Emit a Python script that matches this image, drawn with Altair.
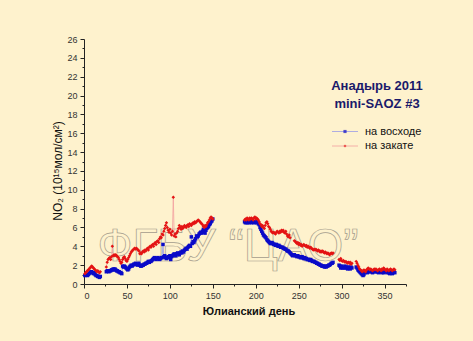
import altair as alt
import pandas as pd

# ---------------- data ----------------
series_names = ["на восходе", "на закате"]
marker_colors = ["#0a0ac8", "#e41414"]
line_colors = ["#9a9ae6", "#f2a0a0"]
marker_shapes = ["square", "diamond"]

sunrise_starts = [1, 26, 187, 297, 317]
sunrise_vals = [
    [0.9, 1.0, 1.0, 0.9, 1.0, 1.1, 1.2, 1.3, 1.3, 1.2, 1.1, 1.2, 1.0, 0.9, 0.9, 0.8, 0.8, 0.7, 0.8],
    [1.3, 1.4, 1.4, 1.3, 1.4, 1.4, 1.5, 1.5, 1.6, 1.5, 1.6, 1.5, 1.4, 1.4, 1.3, 1.3, 1.2, 1.2, 1.1, 1.9,
     1.8, 1.9, 1.8, 1.7, 1.6, 1.5, 1.6, 1.8, 1.9, 2.0,
     1.9, 2.0, 2.1, 2.1, 2.2, 2.1, 2.0, 2.1, 2.2, 2.0,
     1.9, 1.9, 2.0, 2.0, 2.1, 2.1, 2.2, 2.2, 2.3, 2.4,
     2.3, 2.4, 2.4, 2.5, 2.6, 2.7, 2.8, 2.7, 2.6, 2.7,
     2.8, 2.7, 2.6, 2.7, 2.8, 2.8, 4.2, 2.9, 3.0, 2.8,
     2.7, 2.8, 2.9, 2.8, 3.0, 2.6, 2.9, 3.0, 3.1, 3.2,
     3.1, 3.0, 3.2, 3.3, 3.2, 3.1, 3.3, 3.4, 3.3, 3.5,
     3.4, 3.6, 3.7, 3.8, 3.7, 3.9, 4.0, 4.1, 4.0, 5.0,
     4.3, 4.5, 4.4, 4.6, 4.8, 5.1, 5.0, 5.1, 5.3, 5.4,
     5.5, 5.4, 5.6, 5.8, 5.5, 5.4, 5.7, 5.9, 6.0, 6.1,
     6.3, 6.4, 6.6, 6.7, 6.9],
    [6.6, 6.5, 6.6, 6.5, 6.6, 6.5, 6.6, 6.6, 6.5, 6.6, 6.6, 6.5, 6.6, 6.6, 6.5, 6.6, 6.4,
     6.3, 6.0, 5.8, 5.6, 5.4, 5.2, 5.1, 5.0, 4.9, 4.7, 4.6, 4.5,
     4.4, 4.3, 4.3, 4.4, 4.3, 4.2, 4.2, 4.1, 4.2, 4.1, 4.0, 4.1, 4.0, 3.9, 3.9,
     3.9, 3.8, 3.8, 3.7, 3.7, 3.6, 3.5, 3.5, 3.4, 3.3, 3.2, 3.1, 3.0, 3.1, 3.1,
     3.0, 3.0, 2.9, 3.0, 2.9, 2.9, 2.8, 2.8, 2.9, 2.8, 2.7, 2.8, 2.7, 2.7, 2.6,
     2.6, 2.6, 2.5, 2.6, 2.5, 2.4, 2.4, 2.4, 2.3, 2.3, 2.2, 2.2, 2.1, 2.1, 2.0,
     2.0, 1.9, 1.9, 1.9, 1.8, 1.9, 1.8, 1.9, 1.9, 2.0, 2.0, 2.1, 2.2, 2.2, 2.3],
    [2.0, 1.9, 1.7, 1.9, 1.7, 1.8, 1.7, 1.9, 1.7, 1.8, 1.6, 1.8, 1.7, 1.6, 1.8, 1.7],
    [1.8, 1.7, 1.5, 1.4, 1.3, 1.2, 1.1, 1.0, 0.9, 1.0,
     1.2, 1.3, 1.3, 1.2, 1.3, 1.4, 1.3, 1.4, 1.3, 1.2,
     1.3, 1.4, 1.3, 1.4, 1.3, 1.3, 1.2, 1.3, 1.4, 1.3,
     1.2, 1.3, 1.2, 1.3, 1.3, 1.4, 1.2, 1.3, 1.2, 1.1,
     1.2, 1.3, 1.1, 1.2, 1.3, 1.2],
]

sunset_starts = [1, 26, 187, 245, 297, 317]
sunset_vals = [
    [1.1, 1.2, 1.3, 1.4, 1.5, 1.6, 1.7, 1.8, 1.9, 1.8, 1.7, 1.6, 1.5, 1.4, 1.3, 1.4, 1.3, 1.2, 1.3],
    [1.8, 2.3, 2.6, 2.7, 2.8, 2.6, 2.9, 4.0, 3.0, 3.1,
     3.0, 3.1, 3.0, 2.9, 2.8, 2.6, 2.4, 2.2, 2.3, 2.6,
     2.8, 2.9, 2.7, 2.5, 2.4, 2.6, 2.8, 3.0, 3.2, 3.4,
     3.5, 3.6, 3.7, 3.8, 3.7, 3.8, 3.7, 3.6, 3.5, 3.2,
     3.3, 3.2, 3.4, 3.5, 3.4, 3.6, 3.5, 3.7, 3.8, 3.6,
     3.9, 4.0, 3.9, 4.1, 4.2, 4.0, 4.3, 4.4, 4.2, 4.5,
     4.6, 4.4, 4.8, 5.0, 4.9, 5.3, 5.2, 5.6, 5.9, 6.2,
     6.5, 6.0, 5.7, 5.5, 5.8, 5.4, 5.2, 5.6, 9.2, 5.1,
     5.3, 5.0, 5.4, 5.6, 5.9, 6.2, 6.0, 5.8, 6.1, 5.9,
     6.0, 6.2, 6.1, 6.0, 6.2, 6.3, 6.1, 6.4, 6.3, 6.2,
     6.4, 6.5, 6.4, 6.6, 6.5, 6.6, 6.7, 6.8, 6.7, 6.6,
     6.5, 6.4, 6.3, 6.1, 6.0, 6.2, 6.1, 6.3, 6.5, 6.6,
     6.8, 7.0, 7.1, 7.0, 6.9],
    [6.8, 6.9, 6.8, 7.0, 6.9, 6.8, 7.0, 6.9, 7.0, 6.9,
     6.8, 7.0, 7.1, 6.9, 7.0, 6.9, 6.8, 6.6, 6.4, 6.3,
     6.1, 6.2, 6.0, 5.9, 6.2, 6.5, 6.6, 6.4, 6.1, 6.0,
     5.8, 5.6, 5.5, 5.4, 5.5, 5.4, 5.3, 5.5, 5.6, 5.5,
     5.4, 5.6, 5.5, 5.7, 5.6, 5.7, 5.5, 5.4, 5.6, 5.3,
     5.1, 5.0, 5.2, 4.9],
    [4.6, 4.5, 4.4, 4.3, 4.4, 4.2, 4.3, 4.1, 4.2, 4.0,
     4.1, 4.2, 4.1, 4.0, 4.1, 3.9, 4.0, 3.9, 3.8, 3.9,
     3.8, 3.7, 3.6, 3.7, 3.6, 3.7, 3.6, 3.5, 3.6, 3.5,
     3.4, 3.5, 3.4, 3.5, 3.4, 3.3, 3.4, 3.3, 3.2, 3.3,
     3.2, 3.1, 3.2, 3.3, 3.2, 3.3],
    [2.6, 2.5, 2.7, 2.5, 2.4, 2.5, 2.4, 2.3, 2.4, 2.3, 2.2, 2.3, 2.2, 2.3, 2.1, 2.2],
    [2.4, 2.2, 2.0, 1.8, 1.6, 1.5, 1.4, 1.3, 1.4, 1.5,
     1.4, 1.3, 1.5, 1.6, 1.7, 1.6, 1.5, 1.6, 1.5, 1.4,
     1.5, 1.6, 1.5, 1.6, 1.5, 1.4, 1.5, 1.6, 1.5, 1.4,
     1.6, 1.5, 1.7, 1.6, 1.5, 1.4, 1.6, 1.5, 1.4, 1.5,
     1.6, 1.5, 1.4, 1.5, 1.6, 1.5],
]

x_ticks = [0, 50, 100, 150, 200, 250, 300, 350]
x_minor = [25, 75, 125, 175, 225, 275, 325, 375]
y_ticks = [0, 2, 4, 6, 8, 10, 12, 14, 16, 18, 20, 22, 24, 26]
y_minor = [1, 3, 5, 7, 9, 11, 13, 15, 17, 19, 21, 23, 25]

title_lines = ["Анадырь 2011", "mini-SAOZ #3"]
x_title = "Юлианский день"
y_title = "NO₂ (10¹⁵мол/см²)"
watermark = "ФГБУ “ЦАО”"

# ---------------- build table ----------------
rows = []
for name, starts, vals in [(series_names[0], sunrise_starts, sunrise_vals),
                           (series_names[1], sunset_starts, sunset_vals)]:
    for k, (s, seg) in enumerate(zip(starts, vals)):
        for i, v in enumerate(seg):
            rows.append({"series": name, "seg": f"{name}-{k}", "day": s + i, "val": v})
df = pd.DataFrame(rows)

xscale = alt.Scale(domain=[0, 375], nice=False, zero=False)
yscale = alt.Scale(domain=[0, 26], nice=False)
line_color = alt.Color("series:N", scale=alt.Scale(domain=series_names, range=line_colors), legend=None)
pt_color = alt.Color("series:N", scale=alt.Scale(domain=series_names, range=marker_colors), legend=None)
pt_shape = alt.Shape("series:N", scale=alt.Scale(domain=series_names, range=marker_shapes), legend=None)

x_major = alt.X("day:Q", scale=xscale,
                axis=alt.Axis(values=x_ticks, title=None, format="d", tickSize=4, orient="bottom"))
y_major = alt.Y("val:Q", scale=yscale,
                axis=alt.Axis(values=y_ticks, title=None, format="d", tickSize=4, orient="left"))

minor = alt.Chart(df).mark_point(opacity=0).encode(
    x=alt.X("day:Q", scale=xscale,
            axis=alt.Axis(values=x_minor, labels=False, tickSize=2, domain=False, title=None, orient="bottom")),
    y=alt.Y("val:Q", scale=yscale,
            axis=alt.Axis(values=y_minor, labels=False, tickSize=2, domain=False, title=None, orient="left")),
)

# watermark
wm = alt.Chart(pd.DataFrame({"t": [watermark]})).mark_text(
    font="Liberation Sans", fontSize=46, fillOpacity=0, stroke="#a49c8c", strokeWidth=0.7,
    align="center", baseline="alphabetic"
).encode(x=alt.value(144), y=alt.value(222), text="t:N")

lines = alt.Chart(df).mark_line(strokeWidth=0.8).encode(
    x=x_major, y=y_major, color=line_color, detail="seg:N", order="day:Q")
points = alt.Chart(df).mark_point(filled=True, size=12, opacity=1, strokeWidth=0).encode(
    x=alt.X("day:Q", scale=xscale, axis=None),
    y=alt.Y("val:Q", scale=yscale, axis=None),
    color=pt_color, shape=pt_shape)

# title inside plot
tdf = pd.DataFrame({"t": title_lines, "ly": [47, 65]})
title = alt.Chart(tdf).mark_text(
    font="Liberation Sans", fontSize=13, fontWeight="bold", color="#1a1a6a", align="center", baseline="middle"
).encode(x=alt.value(293), y=alt.Y("ly:Q", scale=None), text="t:N")

# legend
ldf = pd.DataFrame({"series": series_names, "ly": [92.5, 107]})
leg_line = alt.Chart(ldf).mark_rule(strokeWidth=0.8).encode(
    x=alt.value(248), x2=alt.value(274), y=alt.Y("ly:Q", scale=None), color=line_color)
leg_pt = alt.Chart(ldf).mark_point(filled=True, size=10, strokeWidth=0).encode(
    x=alt.value(261), y=alt.Y("ly:Q", scale=None), color=pt_color, shape=pt_shape)
leg_txt = alt.Chart(ldf).mark_text(
    font="Liberation Sans", fontSize=11, color="#111", align="left", baseline="middle"
).encode(x=alt.value(281), y=alt.Y("ly:Q", scale=None), text="series:N")

# axis titles
xt = alt.Chart(pd.DataFrame({"t": [x_title]})).mark_text(
    font="Liberation Sans", fontSize=11, fontWeight="bold", color="#111", align="center", baseline="middle"
).encode(x=alt.value(165), y=alt.value(273), text="t:N")
yt = alt.Chart(pd.DataFrame({"t": [y_title]})).mark_text(
    font="Liberation Sans", fontSize=12, color="#111", align="center", baseline="middle", angle=270
).encode(x=alt.value(-26), y=alt.value(132), text="t:N")

chart = alt.layer(
    minor, wm, lines, points, title, leg_line, leg_pt, leg_txt, xt, yt
).resolve_axis(x="independent", y="independent").resolve_scale(color="independent", shape="independent").properties(
    width=322, height=245,
    autosize=alt.AutoSizeParams(type="none"),
    padding={"left": 84, "top": 39, "right": 67, "bottom": 57},
    background="#fef2cd",
).configure_view(stroke=None).configure_axis(
    grid=False, domainColor="#222", tickColor="#222", labelColor="#333",
    labelFont="Liberation Sans", labelFontSize=9, labelPadding=3, domainWidth=1, tickWidth=1,
)

chart.save("out.html", embed_options={"renderer": "svg", "actions": False})
